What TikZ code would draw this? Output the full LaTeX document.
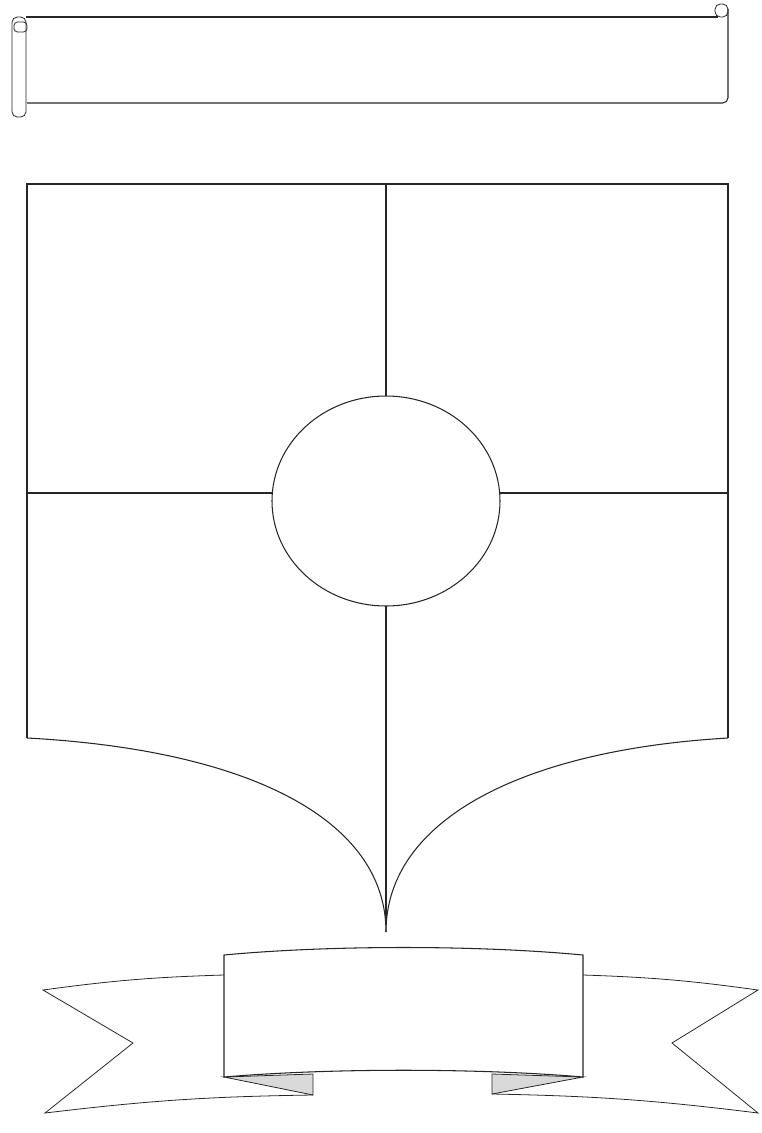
\documentclass[tikz,border=0pt]{standalone}
\begin{document}
\begin{tikzpicture}[x=0.02cm,y=-0.02cm,
  outline/.style={draw=black!85,line width=0.6pt},
  thin/.style={draw=black!85,line width=0.45pt},
  fold/.style={draw=black!85,fill=gray!30,line width=0.45pt}]
\useasboundingbox (0,0) rectangle (761,1133);
% scroll on top
\draw[outline] (26,17) -- (718,17);
\draw[outline,rounded corners=3pt] (728,9) -- (728,103) -- (27,103);
\draw[thin,rounded corners=3pt] (12,17) rectangle (26,117);
\draw[thin,rounded corners=2pt] (14,22) rectangle (27,32);
\draw[thin,rounded corners=3pt] (715,4) rectangle (728,17);
% shield
\coordinate (tl) at (27,184);
\coordinate (tr) at (728,184);
\coordinate (bl) at (27,738);
\coordinate (br) at (728,738);
\coordinate (tip) at (386,932);
\draw[outline] (bl) -- (tl) -- (tr) -- (br);
\draw[outline] (bl) .. controls (250,750) and (386,820) .. (tip);
\draw[outline] (br) .. controls (522,750) and (386,820) .. (tip);
\draw[outline] (386,501) ellipse [x radius=114, y radius=105];
\draw[outline] (386,184) -- (386,396);
\draw[outline] (386,606) -- (386,925);
\draw[outline] (27,493) -- (272,493);
\draw[outline] (500,493) -- (728,493);
% ribbon
\draw[fold] (224,1077) -- (313,1074) -- (313,1095) -- cycle;
\draw[fold] (583,1077) -- (492,1074) -- (492,1094) -- cycle;
\draw[thin] (224,975) to[bend right=3] (43,990) -- (133,1043) -- (45,1113)
  to[bend left=3] (313,1095);
\draw[thin] (583,975) to[bend left=3] (758,990) -- (672,1043) -- (758,1113)
  to[bend right=3] (492,1094);
\draw[outline,fill=white] (224,955) .. controls (330,945) and (477,945) .. (583,955)
  -- (583,1077) .. controls (477,1068) and (330,1068) .. (224,1077) -- cycle;
\end{tikzpicture}
\end{document}
